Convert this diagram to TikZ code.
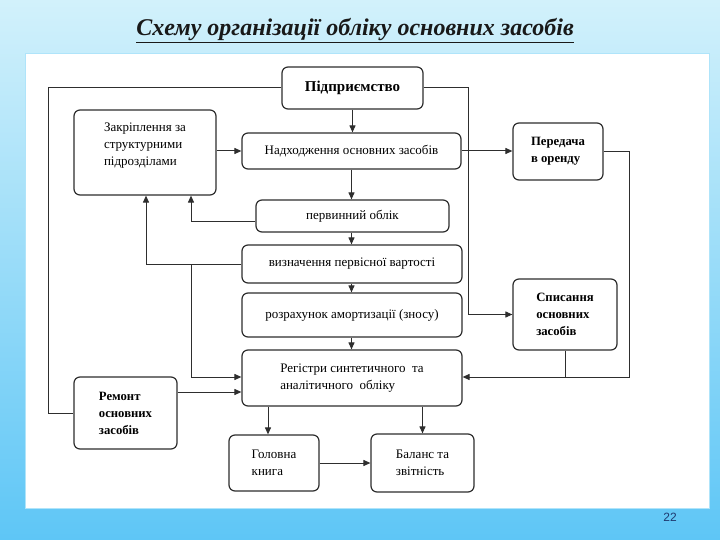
\documentclass[tikz,border=0pt]{standalone}
\usepackage{fontspec}
\setmainfont{Liberation Serif}
\setsansfont{Liberation Sans}
\usetikzlibrary{arrows.meta,calc,positioning}
\definecolor{bgtop}{HTML}{D2F1FB}
\definecolor{bgbot}{HTML}{5EC6F6}
\definecolor{edge}{HTML}{2E2E2E}
\definecolor{pgnum}{HTML}{1F3A70}

\begin{document}
\begin{tikzpicture}[x=1pt, y=-1pt,
    blk/.style={draw=edge, line width=1.2pt, rounded corners=6pt, fill=white,
                inner sep=0pt, align=left, font=\fontsize{13}{17}\selectfont},
    bblk/.style={blk, font=\fontsize{12.7}{17}\selectfont\bfseries},
    arr/.style={draw=edge, line width=1pt, -{Triangle[length=7pt,width=6pt]}},
    lnk/.style={draw=edge, line width=1pt}]

    % background and panel
    \shade[top color=bgtop, bottom color=bgbot] (0,0) rectangle (720,540);
    \fill[white, draw=bgtop!70!bgbot] (25,53) rectangle (709,508);

    \node[font=\fontsize{24}{28}\selectfont\bfseries\itshape, text=black!90] (title) at (355,31)
        {\underline{Схему організації обліку основних засобів}};
    \node[font=\sffamily\fontsize{12}{14}\selectfont, text=pgnum] (page) at (670,517) {22};

    % boxes
    \node[bblk, align=center, font=\fontsize{15}{17}\selectfont\bfseries,
          minimum width=141pt, minimum height=42pt] (pidpr) at (352.5,88) {Підприємство};
    \node[blk, minimum width=142pt, minimum height=85pt] (zakr) at (145,152.5)
        {Закріплення за\\структурними\\підрозділами\\\mbox{}};
    \node[blk, align=center, minimum width=219pt, minimum height=36pt] (nadh) at (351.5,151) {Надходження основних засобів};
    \node[blk, align=center, minimum width=193pt, minimum height=32pt] (perv) at (352.5,216) {первинний облік};
    \node[blk, align=center, minimum width=220pt, minimum height=38pt] (vyzn) at (352,264) {визначення первісної вартості};
    \node[blk, align=center, minimum width=220pt, minimum height=44pt] (rozr) at (352,315) {розрахунок амортизації (зносу)};
    \node[blk, minimum width=220pt, minimum height=56pt] (reg) at (352,378)
        {Регістри синтетичного \ та\\аналітичного \ обліку};
    \node[bblk, minimum width=103pt, minimum height=72pt] (remont) at (125.5,413)
        {Ремонт\\основних\\засобів};
    \node[blk, minimum width=90pt, minimum height=56pt] (golov) at (274,463) {Головна\\книга};
    \node[blk, minimum width=103pt, minimum height=58pt] (balans) at (422.5,463) {Баланс та\\звітність};
    \node[bblk, minimum width=90pt, minimum height=57pt] (pered) at (558,151.5) {Передача\\в оренду};
    \node[bblk, minimum width=104pt, minimum height=71pt] (spys) at (565,314.5)
        {Списання\\основних\\засобів};

    % main chain
    \draw[arr] (pidpr.south) -- (pidpr.south |- nadh.north);
    \draw[arr] (nadh.south) -- (nadh.south |- perv.north);
    \draw[arr] (perv.south -| nadh.south) -- (nadh.south |- vyzn.north);
    \draw[arr] (vyzn.south -| nadh.south) -- (nadh.south |- rozr.north);
    \draw[arr] (rozr.south -| nadh.south) -- (nadh.south |- reg.north);

    % side links
    \draw[arr] (zakr.east |- nadh.west) -- (nadh.west);
    \draw[arr] (nadh.east) -- (pered.west |- nadh.east);
    \draw[arr] (pidpr.east) -- ++(45,0) |- (spys.west);
    \draw[lnk] (pidpr.west) -- ++(-233,0) |- (remont.west);
    \draw[arr] ([yshift=-6pt]perv.west) -| ($(zakr.south)+(46,0)$);
    \draw[arr] (vyzn.west) -| ($(zakr.south)+(1,0)$);
    \coordinate (jn) at ($(zakr.south |- vyzn.west)+(46,0)$);
    \draw[arr] (jn) |- ([yshift=1pt]reg.west);
    \coordinate (rm) at ([yshift=21pt]remont.east);
    \draw[arr] (rm) -- (rm -| reg.west);
    \draw[arr] (pered.east) -- ++(26,0) |- ([yshift=1pt]reg.east);
    \coordinate (sp) at ([yshift=1pt]reg.east -| spys.south);
    \draw[lnk] (spys.south) -- (sp);

    % outputs
    \coordinate (gk) at ([xshift=-6pt]golov.north);
    \draw[arr] (gk |- reg.south) -- (gk);
    \draw[arr] (reg.south -| balans.north) -- (balans.north);
    \draw[arr] (golov.east) -- (balans.west);
\end{tikzpicture}
\end{document}
